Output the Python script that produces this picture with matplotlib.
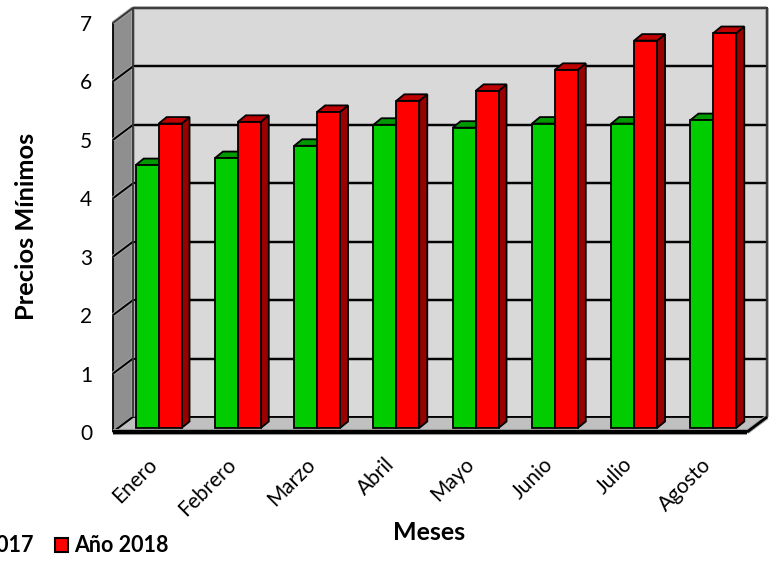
import matplotlib
matplotlib.use("Agg")
import matplotlib.pyplot as plt
from matplotlib.patches import Polygon, Rectangle
from matplotlib.transforms import ScaledTranslation

months = ["Enero", "Febrero", "Marzo", "Abril", "Mayo", "Junio", "Julio", "Agosto"]
values_2017 = [4.50, 4.62, 4.83, 5.19, 5.14, 5.21, 5.21, 5.27]
values_2018 = [5.21, 5.24, 5.41, 5.60, 5.77, 6.13, 6.63, 6.76]
y_ticks = [0, 1, 2, 3, 4, 5, 6, 7]

plt.rcParams['font.family'] = ['Lato', 'DejaVu Sans']

W, H = 773, 562
fig = plt.figure(figsize=(W / 100, H / 100), dpi=100)
ax = fig.add_axes([113 / W, (H - 432) / H, 634 / W, 409 / H])
ax.set_xlim(-0.5, 7.5)
ax.set_ylim(0, 7)
ax.patch.set_visible(False)
for s in ax.spines.values():
    s.set_visible(False)

# px -> data sizes for the fake 3d
ux = 634 / 8
uy = 409 / 7
wall_dx, wall_dy = 20 / ux, 15 / uy
bar_off_x, bar_off_y = 6 / ux, 4 / uy
bar_w = 22.9 / ux
bar_dx, bar_dy = 8 / ux, 6.5 / uy
x0, x1 = -0.5, 7.5
top = 7 + wall_dy


def line(xs, ys, lw=1.8, color="black", z=2):
    # soft grey halo under every line, the original looks blurred
    ax.plot(xs, ys, color="#a5a5a5", lw=lw + 1.4, zorder=z, clip_on=False, solid_capstyle="butt")
    ax.plot(xs, ys, color=color, lw=lw, zorder=z + 0.1, clip_on=False, solid_capstyle="butt")


def poly(pts, fc, z):
    ax.add_patch(Polygon(pts, closed=True, fc=fc, ec="black", lw=1.3, zorder=z, clip_on=False))


# walls and floor
poly([(x0 + wall_dx, wall_dy), (x1 + wall_dx, wall_dy), (x1 + wall_dx, top), (x0 + wall_dx, top)], "#d9d9d9", 1)
poly([(x0, 0), (x0 + wall_dx, wall_dy), (x0 + wall_dx, top), (x0, 7)], "#8f8f8f", 1)
poly([(x0, 0), (x1, 0), (x1 + wall_dx, wall_dy), (x0 + wall_dx, wall_dy)], "#c0c0c0", 1)

for t in y_ticks[1:-1]:
    line([x0, x0 + wall_dx], [t, t + wall_dy], lw=1.4)
    line([x0 + wall_dx, x1 + wall_dx], [t + wall_dy, t + wall_dy], lw=1.4)
line([x0 + wall_dx, x1 + wall_dx], [top, top], lw=1.3, color="#333333")
line([x0, x0 + wall_dx], [7, top], lw=1.3, color="#333333")
line([x1 + wall_dx, x1 + wall_dx], [wall_dy, top], lw=1.3, color="#333333")
line([x0 + wall_dx, x0 + wall_dx], [wall_dy, top], lw=1.3, color="#333333")
line([x1, x1 + wall_dx], [0, wall_dy], lw=2)


def bar3d(left, v, front, roof, side, z):
    base = bar_off_y
    h = v + base
    poly([(left + bar_w, base), (left + bar_w + bar_dx, base + bar_dy),
          (left + bar_w + bar_dx, h + bar_dy), (left + bar_w, h)], side, z)
    poly([(left, h), (left + bar_dx, h + bar_dy), (left + bar_w + bar_dx, h + bar_dy), (left + bar_w, h)], roof, z)
    ax.bar(left, v, width=bar_w, bottom=base, align="edge", color=front, edgecolor="black",
           lw=1.3, zorder=z + 0.1, clip_on=False)


for i, (a, b) in enumerate(zip(values_2017, values_2018)):
    c = i + bar_off_x
    bar3d(c - bar_w, a, "#00cc00", "#009900", "#007a00", 3 + i * 0.5)
    bar3d(c, b, "#ff0000", "#c00000", "#990000", 3.2 + i * 0.5)

line([x0, x1], [0, 0], lw=3, z=8)

ax.set_yticks(y_ticks)
ax.set_xticks(range(len(months)))
ax.set_xticklabels(months, rotation=45, ha="right", va="top", rotation_mode="anchor", fontsize=15)
ax.tick_params(axis="both", length=0)
ax.tick_params(axis="y", labelsize=15, pad=15)
ax.tick_params(axis="x", pad=16)
shift = ScaledTranslation(-6 / 100, 0, fig.dpi_scale_trans)
for lab in ax.get_xticklabels():
    lab.set_transform(lab.get_transform() + shift)

fig.text(27 / W, 1 - 226 / H, "Precios Mínimos", rotation=90, ha="center", va="center", fontsize=18.3, fontweight="bold")
fig.text(429 / W, 1 - 533 / H, "Meses", ha="center", va="center", fontsize=18, fontweight="bold")

# legend runs off the left edge of the canvas in the original
fig.text(34 / W, 1 - 545 / H, "Año 2017", ha="right", va="center", fontsize=15.5, fontweight="bold")
fig.add_artist(Rectangle((54.5 / W, 1 - 552 / H), 13.5 / W, 14 / H, transform=fig.transFigure,
                         fc="#ff0000", ec="black", lw=1.5))
fig.text(74 / W, 1 - 545 / H, "Año 2018", ha="left", va="center", fontsize=15.5, fontweight="bold")

fig.savefig("out.png", dpi=100)
plt.close(fig)
